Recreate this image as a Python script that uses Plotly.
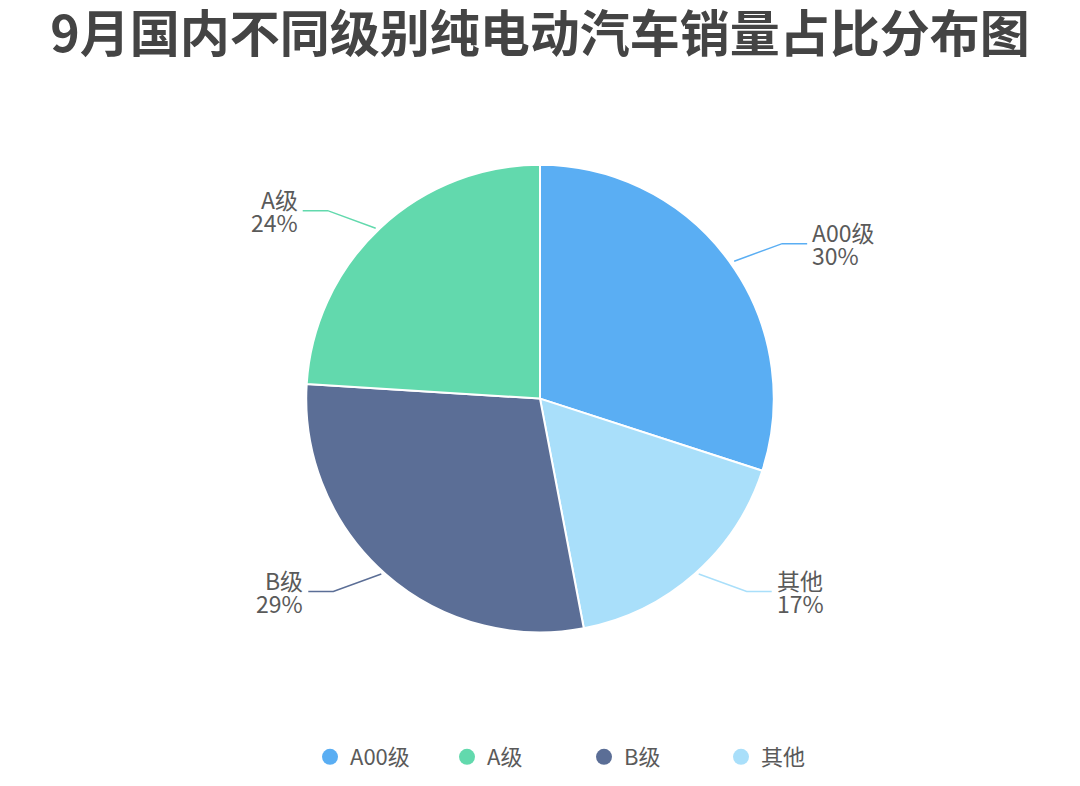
import math
import plotly.graph_objects as go

# data (clockwise from 12 o'clock, as drawn)
labels = ["A00级", "其他", "B级", "A级"]
values = [30, 17, 29, 24]
colors = {"A00级": "#5AAEF3", "A级": "#62D9AD", "B级": "#5B6E96", "其他": "#A9DFFA"}
legend_order = ["A00级", "A级", "B级", "其他"]

# page keeps an 8px body margin on the left
OFFX, OFFY = 8, 0
W, H = 1080 - 2 * OFFX, 786 - 2 * 8
cx, cy, r = 540, 401, 240   # pie centre / radius in window px

px = lambda x: (x - OFFX) / W
py = lambda y: 1 - (y - OFFY) / H

fig = go.Figure()
fig.add_trace(go.Pie(
    labels=labels, values=values, sort=False, direction="clockwise",
    marker=dict(colors=[colors[l] for l in labels], line=dict(color="white", width=2)),
    textinfo="none", hoverinfo="label+percent", showlegend=False,
    domain=dict(x=[px(cx - r), px(cx + r)], y=[py(cy + r), py(cy - r)]),
))

# legend entries with round markers
for l in legend_order:
    fig.add_trace(go.Scatter(x=[None], y=[None], mode="markers", name=l,
                             marker=dict(color=colors[l], size=22, symbol="circle")))

# leader lines + labels
total = sum(values)
cum = 0
for l, v in zip(labels, values):
    mid = (cum + v / 2) / total * 2 * math.pi
    cum += v
    ex, ey = cx + r * math.sin(mid), cy - r * math.cos(mid)
    sx = 1 if math.sin(mid) > 0 else -1
    sy = 1 if math.cos(mid) < 0 else -1
    bx, by = ex + sx * 48, ey + sy * 18
    tx = bx + sx * 25
    fig.add_shape(type="path", xref="paper", yref="paper",
                  path=f"M {px(ex)},{py(ey)} L {px(bx)},{py(by)} L {px(tx)},{py(by)}",
                  line=dict(color=colors[l], width=1.5))
    for dy, txt in ((-12, l), (12, f"{round(v / total * 100)}%")):
        fig.add_annotation(x=px(tx + sx * 3), y=py(by + dy), xref="paper", yref="paper",
                           text=txt, showarrow=False,
                           xanchor="left" if sx > 0 else "right", yanchor="middle",
                           font=dict(size=23, color="#5a5a5a"))

fig.update_layout(
    width=W, height=H, margin=dict(l=0, r=0, t=0, b=0),
    paper_bgcolor="white", plot_bgcolor="white",
    font=dict(family="Noto Sans CJK SC", color="#5a5a5a"),
    title=dict(text="<b>9月国内不同级别纯电动汽车销量占比分布图</b>", x=0.5, xanchor="center",
               y=py(26), yanchor="middle", font=dict(size=50, color="#444444")),
    xaxis=dict(visible=False), yaxis=dict(visible=False),
    legend=dict(orientation="h", x=px(310), xanchor="left", y=py(769), yanchor="middle",
                entrywidth=92, font=dict(size=22, color="#5a5a5a")),
)

fig.write_html("out.html")
